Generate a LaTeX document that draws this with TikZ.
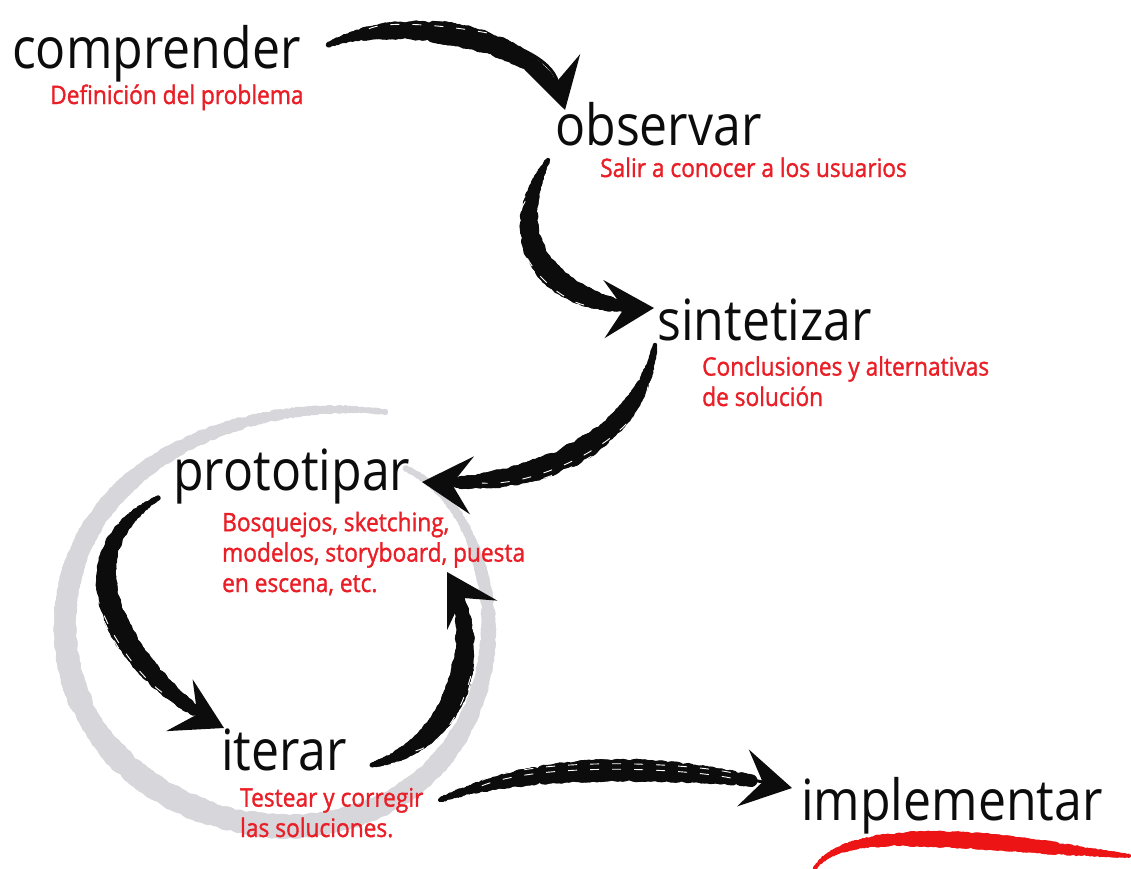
\documentclass[tikz,border=0pt]{standalone}
\usepackage{fontspec}
\setmainfont{Open Sans}[FakeStretch=0.88]
\newfontfamily\notefont{Open Sans}[FakeStretch=0.89,FakeBold=1.3]
\usetikzlibrary{arrows.meta,decorations.markings}
\definecolor{ink}{RGB}{12,12,12}
\definecolor{redtext}{RGB}{234,30,38}
\definecolor{ringgray}{RGB}{214,214,219}
\definecolor{brushred}{RGB}{236,20,20}
\pgfmathsetseed{7}
\tikzset{
  word/.style={anchor=base west, inner sep=0pt, text=ink, font=\fontsize{57}{60}\selectfont},
  note/.style={anchor=base west, inner sep=0pt, text=redtext, align=left, font=\notefont\fontsize{25.6}{30.5}\selectfont},
  taper/.style n args={3}{decoration={markings, mark=between positions 0 and #3 step 1.3pt with {
      \pgfmathsetmacro\tpos{\pgfkeysvalueof{/pgf/decoration/mark info/distance from start}/\pgfdecoratedpathlength}
      \pgfmathsetmacro\rr{#2*(0.25+0.75*sin(180*\tpos))*(0.8+0.4*rnd)}
      \fill[#1] (0,0) circle (\rr);}}, postaction={decorate}},
  streak/.style={postaction={draw=white, line width=0.9bp, -, dash pattern=on 9bp off 13bp, shorten <=45bp, shorten >=60bp, transform canvas={shift={(0,#1)}}}},
  brush/.style={draw=ink, line width=3bp, -{Stealth[length=50bp,width=58bp,inset=20bp]}, taper={ink}{10}{0.88}, streak=2.5, streak=-3},
}
\begin{document}
\begin{tikzpicture}[x=1bp,y=-1bp]
\useasboundingbox (0,0) rectangle (1131,869);
\fill[white] (0,0) rectangle (1131,869);
% gray ring
\draw[draw=ringgray, line width=2bp, taper={ringgray}{11}{1}]
  (385,412) .. controls (250,395) and (70,460) .. (65,620)
  .. controls (62,780) and (230,845) .. (330,822)
  .. controls (470,795) and (505,660) .. (482,575)
  .. controls (468,515) and (440,485) .. (405,468);
% red stroke under implementar
\draw[draw=brushred, line width=2bp, taper={brushred}{7.5}{1}]
  (815,868) .. controls (830,846) and (870,838) .. (930,839)
  .. controls (1000,840) and (1060,850) .. (1131,856);
% words
\node[word] (comprender) at (12,68) {comprender};
\node[note] (definicion) at (50,104) {Definición del problema};
\node[word] (observar) at (555,145) {observar};
\node[note] (salir) at (600,177) {Salir a conocer a los usuarios};
\node[word] (sintetizar) at (657,340) {sintetizar};
\node[note] (conclusiones) at (702,406) {Conclusiones y alternativas\\de solución};
\node[word] (prototipar) at (173,490) {prototipar};
\node[note] (bosquejos) at (222,592) {Bosquejos, sketching,\\modelos, storyboard, puesta\\en escena, etc.};
\node[word] (iterar) at (221,770) {iterar};
\node[note] (testear) at (240,837) {Testear y corregir\\las soluciones.};
\node[word] (implementar) at (801,820) {implementar};
% brush arrows
\draw[brush] ([shift={(316,-23)}]comprender.base west) .. controls (400,12) and (545,35) .. ([shift={(10,-35)}]observar.base west);
\draw[brush] ([shift={(-7,15)}]observar.base west) .. controls (495,250) and (560,310) .. ([shift={(-3,-32)}]sintetizar.base west);
\draw[brush] ([shift={(-2,5)}]sintetizar.base west) .. controls (640,440) and (540,490) .. ([shift={(249,-8)}]prototipar.base west);
\draw[brush] ([shift={(-15,8)}]prototipar.base west) .. controls (50,560) and (130,680) .. ([shift={(3,-42)}]iterar.base west);
\draw[brush] ([shift={(151,-5)}]iterar.base west) .. controls (470,740) and (482,632) .. ([shift={(274,82)}]prototipar.base west);
\draw[brush] ([shift={(219,30)}]iterar.base west) .. controls (540,760) and (680,765) .. ([shift={(-9,-32)}]implementar.base west);
\end{tikzpicture}
\end{document}
